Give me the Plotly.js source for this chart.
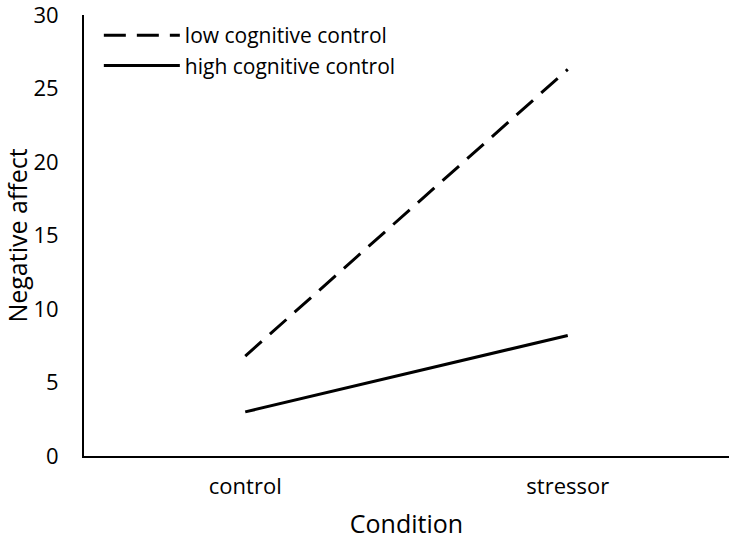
<!DOCTYPE html>
<html>
<head>
<meta charset="utf-8">
<script src="https://cdn.plot.ly/plotly-3.0.1.min.js"></script>
<style>
  html, body { margin: 0; padding: 0; background: #fff; }
  #myDiv { width: 732px; height: 540px; }
</style>
</head>
<body>
<div id="myDiv"></div>
<script>
var conditions = ["control", "stressor"];
var lowControlVals = [6.8, 26.3];
var highControlVals = [3.0, 8.2];
var yTicks = [0, 5, 10, 15, 20, 25, 30];

var lowControl = {
    x: conditions,
    y: lowControlVals,
    mode: "lines",
    type: "scatter",
    name: "low cognitive control",
    line: { color: "black", width: 3, dash: "22px,11px" }
};

var highControl = {
    x: conditions,
    y: highControlVals,
    mode: "lines",
    type: "scatter",
    name: "high cognitive control",
    line: { color: "black", width: 3 }
};

var data = [lowControl, highControl];

var layout = {
    width: 732,
    height: 540,
    margin: { l: 84, r: 3, t: 15, b: 84 },
    paper_bgcolor: "white",
    plot_bgcolor: "white",
    font: { family: "'Open Sans', sans-serif", size: 22, color: "black" },
    showlegend: true,
    legend: {
        x: 0.023,
        y: 1.0,
        xanchor: "left",
        yanchor: "top",
        bgcolor: "rgba(0,0,0,0)",
        itemwidth: 76,
        tracegroupgap: 0,
        font: { size: 21 }
    },
    xaxis: {
        type: "category",
        range: [-0.5, 1.5],
        showline: true,
        linecolor: "black",
        linewidth: 2,
        showgrid: false,
        zeroline: false,
        ticks: "",
        ticklabelstandoff: 10,
        title: { text: "Condition", font: { size: 25 }, standoff: 20 }
    },
    yaxis: {
        range: [0, 30],
        tickvals: yTicks,
        ticklabeloverflow: "allow",
        automargin: false,
        showline: true,
        linecolor: "black",
        linewidth: 2,
        showgrid: false,
        zeroline: false,
        ticks: "",
        ticklabelstandoff: 19,
        title: { text: "Negative affect", font: { size: 25 }, standoff: 12 }
    }
};

Plotly.newPlot("myDiv", data, layout, { displayModeBar: false });
</script>
</body>
</html>
